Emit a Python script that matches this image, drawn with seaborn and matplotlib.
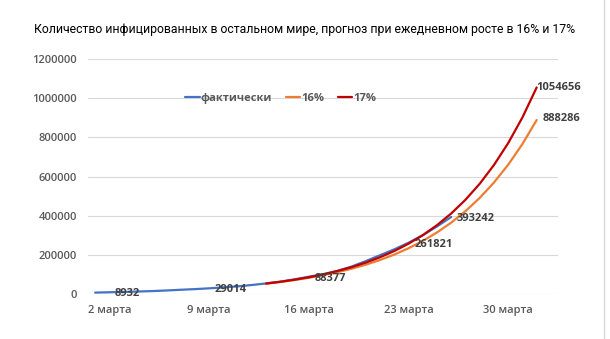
import matplotlib
matplotlib.use("Agg")
import matplotlib.pyplot as plt
import seaborn as sns
import pandas as pd
from matplotlib.lines import Line2D

# ---- data ----
dates = ["1 марта", "2 марта", "3 марта", "4 марта", "5 марта", "6 марта", "7 марта",
         "8 марта", "9 марта", "10 марта", "11 марта", "12 марта", "13 марта", "14 марта",
         "15 марта", "16 марта", "17 марта", "18 марта", "19 марта", "20 марта", "21 марта",
         "22 марта", "23 марта", "24 марта", "25 марта", "26 марта", "27 марта", "28 марта",
         "29 марта", "30 марта", "31 марта", "1 апреля"]
actual = [7200, 8932, 10500, 12700, 14900, 18000, 21700, 25000, 29014, 33800, 39000,
          46000, 54000, 63000, 75000, 88377, 101000, 118000, 140000, 168000, 198000,
          228000, 261821, 300000, 345000, 393242]
forecast_16 = [52948, 61420, 71247, 82646, 95870, 111210, 129003, 149644, 173586, 201360,
               233578, 270951, 314302, 364591, 422925, 490593, 569087, 660141, 765763, 888286]
forecast_17 = [53405, 62483, 73106, 85534, 100074, 117087, 136992, 160281, 187528, 219407,
               256707, 300347, 351407, 411146, 481041, 562818, 658497, 770442, 901416, 1054656]
forecast_start = "13 марта"
tick_labels = ["2 марта", "9 марта", "16 марта", "23 марта", "30 марта"]
labeled_actual = ["2 марта", "9 марта", "16 марта", "23 марта", "26 марта"]
series_names = ["фактически", "16%", "17%"]
colors = ["#4472C4", "#ED7D31", "#C00000"]
yticks = [0, 200000, 400000, 600000, 800000, 1000000, 1200000]
title = "Количество инфицированных в остальном мире, прогноз при ежедневном росте в 16% и 17%"

# ---- build table ----
idx = {d: i for i, d in enumerate(dates)}
s0 = idx[forecast_start]
rows = []
for i, v in enumerate(actual):
    rows.append({"x": i, "y": v, "series": series_names[0]})
for k, v in enumerate(forecast_16):
    rows.append({"x": s0 + k, "y": v, "series": series_names[1]})
for k, v in enumerate(forecast_17):
    rows.append({"x": s0 + k, "y": v, "series": series_names[2]})
df = pd.DataFrame(rows)

sns.set_theme(style="white")
plt.rcParams["font.family"] = ["Open Sans", "DejaVu Sans"]

fig = plt.figure(figsize=(6.10, 3.39), dpi=100)
ax = fig.add_axes([0.1443, 0.1327, 0.7705, 0.6933])

sns.lineplot(data=df, x="x", y="y", hue="series", hue_order=series_names,
             palette=colors, linewidth=1.6, ax=ax, legend=True)

ax.set_xlim(-0.5, len(dates) + 0.5)
ax.set_ylim(0, 1200000)
ax.set_yticks(yticks)
ax.set_yticklabels([str(t) for t in yticks])
ax.set_xticks([idx[t] for t in tick_labels])
ax.set_xticklabels(tick_labels)
ax.tick_params(axis="both", length=0, labelsize=8, labelcolor="#595959", pad=8)
for lab in ax.get_xticklabels() + ax.get_yticklabels():
    lab.set_fontweight("semibold")
ax.set_xlabel("")
ax.set_ylabel("")
ax.grid(axis="y", color="#D9D9D9", linewidth=0.8)
ax.grid(axis="x", visible=False)
for sp in ax.spines.values():
    sp.set_visible(False)
ax.set_axisbelow(True)

# data labels
lab_kw = dict(fontsize=8, fontweight="bold", color="#404040", va="center", ha="left")
for d in labeled_actual:
    i = idx[d]
    ax.annotate(str(actual[i]), (i, actual[i]), xytext=(4, -1), textcoords="offset points", **lab_kw)
end = s0 + len(forecast_17) - 1
ax.annotate(str(forecast_17[-1]), (end, forecast_17[-1]), xytext=(0, 0), textcoords="offset points", **lab_kw)
ax.annotate(str(forecast_16[-1]), (end, forecast_16[-1]), xytext=(4, 1), textcoords="offset points", **lab_kw)

leg = ax.legend(loc="center", bbox_to_anchor=(0.41, 0.834), ncol=3, frameon=False,
                fontsize=8, handlelength=1.3, handletextpad=0.1, columnspacing=1.2)
for t in leg.get_texts():
    t.set_color("#595959")
    t.set_fontweight("bold")

ttl = fig.text(0.5, 0.913, title, ha="center", va="center", fontsize=11, color="#000000",
               family=["Roboto", "DejaVu Sans"])
# fit title width to ~540 px as in the reference
renderer = fig.canvas.get_renderer()
w = ttl.get_window_extent(renderer).width
ttl.set_fontsize(11 * 540.0 / w)

fig.add_artist(Line2D([0.99, 0.99], [0.0, 1.0], color="#D9D9D9", linewidth=1.0))

fig.savefig("out.png", dpi=100)
